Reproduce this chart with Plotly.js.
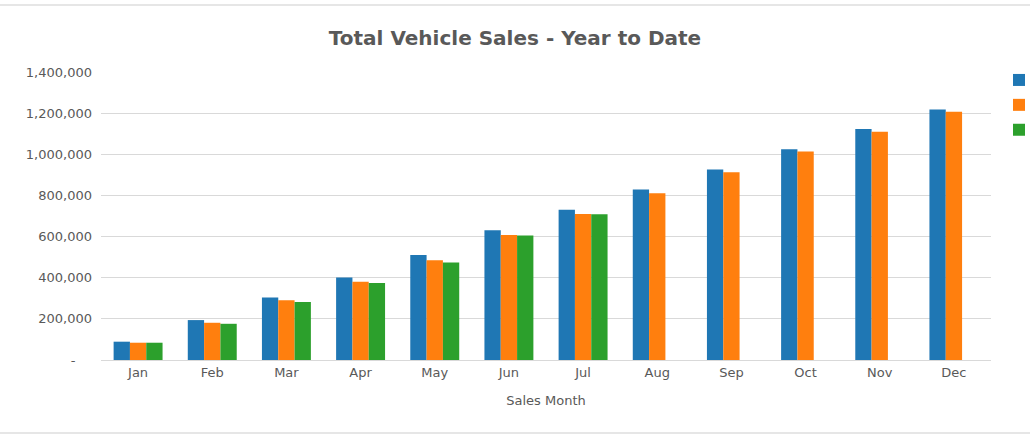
<!DOCTYPE html>
<html>
<head>
<meta charset="utf-8">
<script src="https://cdn.plot.ly/plotly-3.0.1.min.js"></script>
<style>
  html, body { margin: 0; padding: 0; background: #fff; overflow: hidden; }
</style>
</head>
<body>
<div id="chart"></div>
<script>
// sales data (cumulative, year to date)
var months = ['Jan', 'Feb', 'Mar', 'Apr', 'May', 'Jun', 'Jul', 'Aug', 'Sep', 'Oct', 'Nov', 'Dec'];
var years = ['2017', '2018', '2019'];
var sales2017 = [89000, 194000, 304000, 401000, 511000, 631000, 730000, 829000, 926000, 1024000, 1123000, 1218000];
var sales2018 = [84000, 181000, 290000, 380000, 485000, 608000, 710000, 811000, 913000, 1013000, 1110000, 1207000];
var sales2019 = [84000, 176000, 282000, 374000, 474000, 605000, 709000, null, null, null, null, null];
var yTickVals = [0, 200000, 400000, 600000, 800000, 1000000, 1200000, 1400000];
var yTickText = ['-\u00a0\u00a0\u00a0\u00a0', '200,000', '400,000', '600,000', '800,000', '1,000,000', '1,200,000', '1,400,000'];

var colors = ['#1f77b4', '#ff7f0e', '#2ca02c'];
var series = [sales2017, sales2018, sales2019];

var data = [];
for (var i = 0; i < series.length; i++) {
  data.push({
    x: months,
    y: series[i],
    name: years[i],
    type: 'bar',
    legendgroup: 'g' + i,
    marker: { color: colors[i], line: { width: 0 } },
    hoverinfo: 'x+y+name'
  });
}

var txt = '#595959';
var layout = {
  width: 1030,
  height: 438,
  font: { family: 'DejaVu Sans', size: 13, color: txt },
  paper_bgcolor: '#fff',
  plot_bgcolor: '#fff',
  margin: { l: 101, r: 39, t: 72, b: 78, pad: 0 },
  title: {
    text: '<b>Total Vehicle Sales - Year to Date</b>',
    font: { family: 'DejaVu Sans', size: 20, color: txt },
    x: 0.5,
    xanchor: 'center',
    y: 1 - 38 / 438,
    yanchor: 'middle'
  },
  barmode: 'group',
  bargap: 0.34,
  bargroupgap: 0,
  xaxis: {
    type: 'category',
    showgrid: false,
    showline: true,
    linecolor: '#d9d9d9',
    linewidth: 1,
    ticks: '',
    ticklabelstandoff: 0,
    tickfont: { size: 13, color: txt },
    title: { text: 'Sales Month', font: { size: 13, color: txt }, standoff: 17 }
  },
  yaxis: {
    range: [0, 1400000],
    tickvals: yTickVals,
    ticktext: yTickText,
    showgrid: true,
    gridcolor: '#d9d9d9',
    gridwidth: 1,
    zeroline: false,
    ticks: '',
    ticklabelstandoff: 8,
    tickfont: { size: 13, color: txt }
  },
  showlegend: true,
  legend: {
    xref: 'container',
    yref: 'container',
    x: 999 / 1030,
    xanchor: 'left',
    y: 1 - 65 / 438,
    yanchor: 'top',
    tracegroupgap: 5,
    font: { size: 13, color: txt },
    bgcolor: 'rgba(0,0,0,0)'
  },
  shapes: [
    { type: 'line', xref: 'paper', yref: 'paper', x0: -101 / 890, x1: 929 / 890,
      y0: (360 - 5) / 288, y1: (360 - 5) / 288, line: { color: '#dedede', width: 1.5 } },
    { type: 'line', xref: 'paper', yref: 'paper', x0: -101 / 890, x1: 929 / 890,
      y0: (360 - 433) / 288, y1: (360 - 433) / 288, line: { color: '#dedede', width: 1.5 } }
  ]
};

Plotly.newPlot('chart', data, layout, { displayModeBar: false, staticPlot: true });
</script>
</body>
</html>
